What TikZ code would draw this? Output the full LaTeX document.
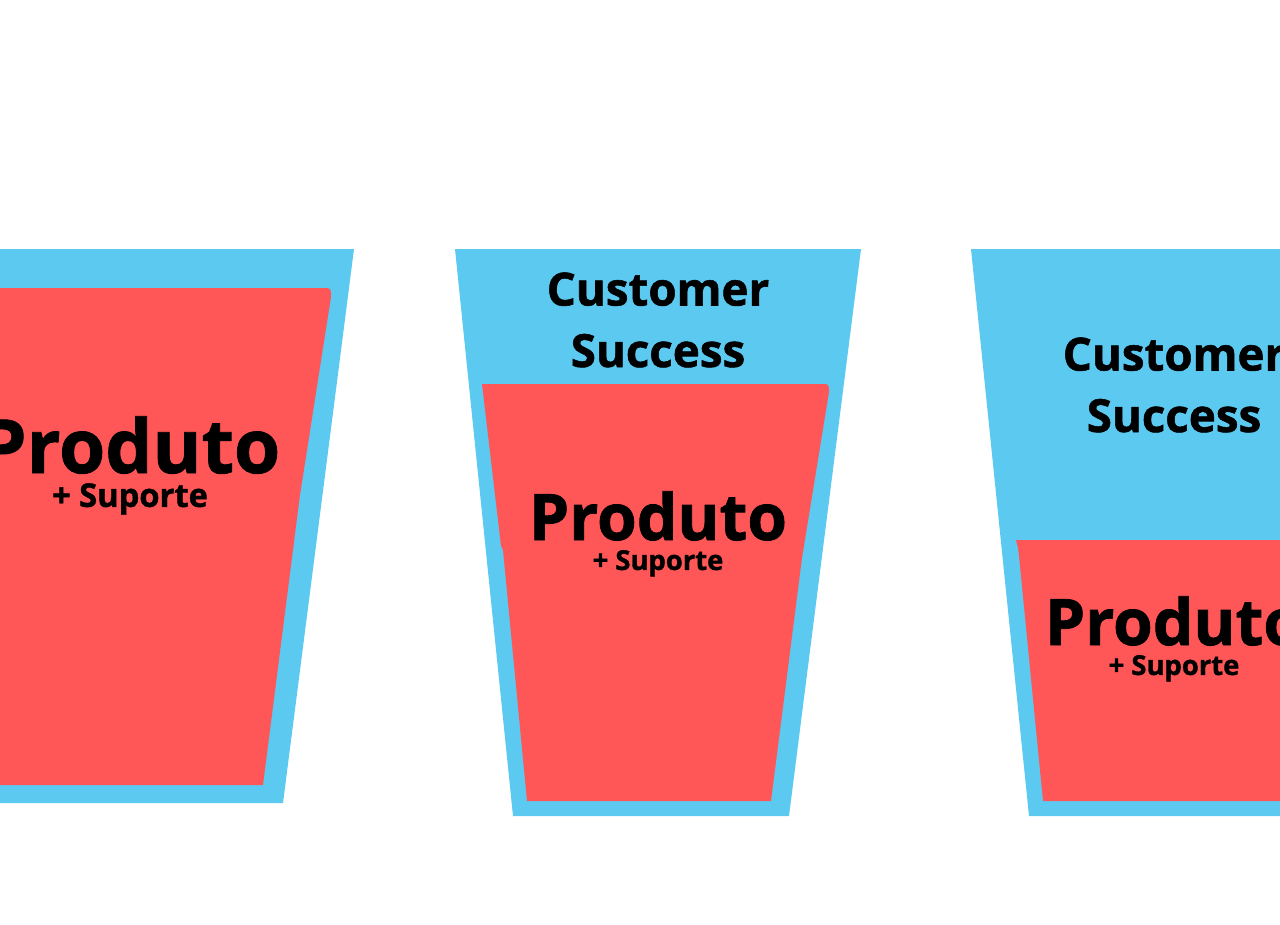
\documentclass[tikz,border=0pt]{standalone}
\usepackage{fontspec}
\setmainfont{Open Sans}[BoldFeatures={FakeBold=1.2}]
\usetikzlibrary{positioning}

\definecolor{cupblue}{RGB}{92,201,240}
\definecolor{drinkred}{RGB}{255,87,87}

\tikzset{
  cup/.style={fill=cupblue},
  drink/.style={fill=drinkred},
  produto/.style={font=\bfseries\fontsize{36.5}{38}\selectfont, inner sep=0pt, anchor=base},
  suporte/.style={font=\bfseries\fontsize{15.6}{17}\selectfont, inner sep=0pt},
  success/.style={font=\bfseries\fontsize{26}{35}\selectfont, align=center, inner sep=0pt, anchor=base},
}

\begin{document}
\begin{tikzpicture}[x=0.02cm, y=-0.02cm]
  \useasboundingbox (0,0) rectangle (1280,924);
  \clip (0,0) rectangle (1280,924);

  % cup 1: only product
  \fill[cup] (-100,249) -- (354,249) -- (283,803) -- (-30,803) -- cycle;
  \fill[drink] (-80,288) -- (323,288) .. controls (331,288) .. (331,297)
    -- (300,495) -- (263,785) -- (-60,785) -- cycle;
  \node[produto, font=\bfseries\fontsize{42.5}{44}\selectfont] (prod1) at (130,473) {Produto};
  \node[suporte, font=\bfseries\fontsize{18.6}{20}\selectfont, below=5pt of prod1] (sup1) {+ Suporte};

  % cup 2: product + customer success
  \fill[cup] (455,249) -- (861,249) -- (789,816) -- (513,816) -- cycle;
  \fill[drink] (482,384) -- (821,384) .. controls (829,384) .. (829,392)
    -- (802,558) -- (771,801) -- (527,801) -- (503,550) -- (501,546) -- cycle;
  \node[success] (cs2) at (658,367) {Customer\\Success};
  \node[produto] (prod2) at (658,540) {Produto};
  \node[suporte, below=5pt of prod2] (sup2) {+ Suporte};

  % cup 3: more customer success
  \fill[cup] (971,249) -- (1377,249) -- (1305,816) -- (1029,816) -- cycle;
  \fill[drink] (1016,540) -- (1360,540) -- (1287,801) -- (1043,801)
    -- (1019,556) -- (1018,548) -- cycle;
  \node[success] (cs3) at (1174,432) {Customer\\Success};
  \node[produto] (prod3) at (1174,645) {Produto};
  \node[suporte, below=5pt of prod3] (sup3) {+ Suporte};
\end{tikzpicture}
\end{document}
